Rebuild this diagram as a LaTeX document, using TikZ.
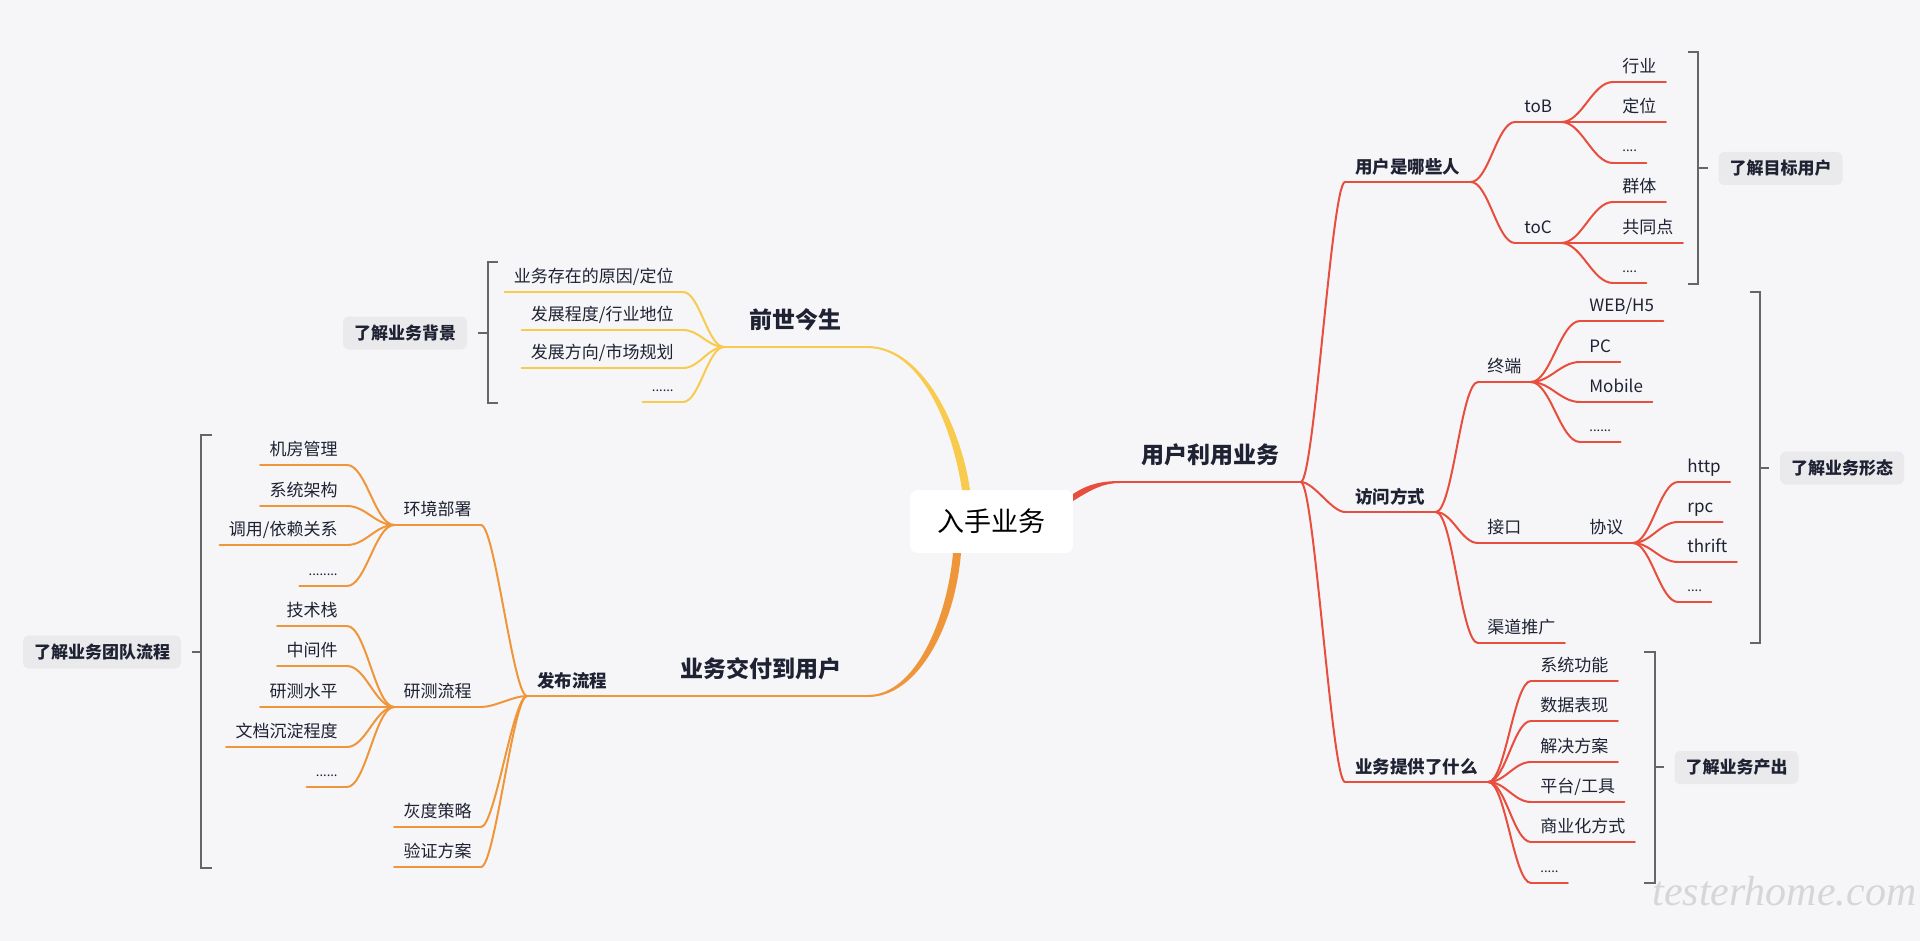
\documentclass[tikz,border=0pt]{standalone}
\usepackage{fontspec}
\setmainfont{Noto Sans CJK SC}
\newfontfamily\wmfont{Liberation Serif}
\usetikzlibrary{calc}
\definecolor{bg}{HTML}{F6F6F8}
\definecolor{txt}{HTML}{1E2233}
\definecolor{cY}{HTML}{F8CB4E}
\definecolor{cO}{HTML}{F0963A}
\definecolor{cR}{HTML}{E84E3E}
\definecolor{brkc}{HTML}{666666}
\definecolor{boxc}{HTML}{EAEAEC}
\definecolor{wmc}{HTML}{D6D6D6}
\newcommand\tp[5]{\node[#3] (#1) at (#4) {#5};\draw[ln,#2] (#1.south west) -- (#1.south east);}
\tikzset{
  ln/.style={line width=1pt, line cap=round},
  mm/.style={to path={let \p1=(\tikztostart), \p2=(\tikztotarget), \n1={#1*(\x2-\x1)} in .. controls ({\x1+\n1},\y1) and ({\x2-\n1},\y2) .. (\tikztotarget)}},
  mm/.default=0.4,
  tx/.style={text=txt, font=\fontsize{8.5}{10}\selectfont, inner xsep=4.5pt, inner ysep=3.75pt, text height=7.5pt, text depth=1pt},
  tR/.style={tx, anchor=south west},
  tL/.style={tx, anchor=south east},
  dots/.style={font=\fontsize{6.5}{8}\selectfont, inner ysep=4.3pt},
  t2/.style={tx, font=\bfseries\fontsize{8.75}{10}\selectfont, inner xsep=5pt, inner ysep=3.2pt, text height=7.7pt, text depth=1pt},
  t2R/.style={t2, anchor=south west},
  t1/.style={text=txt, font=\bfseries\fontsize{11.5}{13}\selectfont, inner ysep=7.75pt, text height=10.1pt, text depth=1.4pt},
  box/.style={fill=boxc, rounded corners=3pt, text=txt, font=\bfseries\fontsize{8.5}{10}\selectfont, minimum height=16.5pt, inner xsep=5.5pt, inner ysep=0pt},
  brk/.style={draw=brkc, line width=1.2pt},
}
\begin{document}
\begin{tikzpicture}[x=0.5pt, y=-0.5pt]
\useasboundingbox (0,0) rectangle (1920,941);
\fill[bg] (0,0) rectangle (1920,941);

% centre
\node[fill=white, rounded corners=4pt, minimum width=81.5pt, minimum height=31.5pt, inner sep=0pt,
      font=\fontsize{13.5}{16}\selectfont, text=black] (c) at (991.5,521.5) {入手业务};
\coordinate (cTl) at (962,490); \coordinate (cTr) at (970,490);
\coordinate (cBl) at (953,553); \coordinate (cBr) at (961,553);
\coordinate (cRt) at (1073,494); \coordinate (cRb) at (1073,501);

% ---------------- yellow branch
\tp{qs}{cY,line width=1.25pt}{t1,anchor=south east,inner xsep=12.5pt}{867,347}{前世今生}
\fill[cY] ($(qs.south east)+(0,-1)$) .. controls (925,346) and (962,432) .. (cTr)
   -- (cTl) .. controls (954,436) and (925,348) .. ($(qs.south east)+(0,1)$) -- cycle;
\tp{q1}{cY}{tL}{683,292}{业务存在的原因/定位}
\tp{q2}{cY}{tL}{683,330}{发展程度/行业地位}
\tp{q3}{cY}{tL}{683,368}{发展方向/市场规划}
\tp{q4}{cY}{tL,dots}{683,402}{......}
\foreach \k in {q1,q2,q3,q4} \draw[ln,cY] (qs.south west) to[mm] (\k.south east);

\node[box] (bg1) at (405,333) {了解业务背景};
\coordinate (by1) at (498,262); \coordinate (by2) at (488,262);
\coordinate (by3) at (488,403); \coordinate (by4) at (498,403);
\coordinate (byt) at (488,333); \coordinate (byk) at (478,333);
\draw[brk] (by1) -- (by2) -- (by3) -- (by4);
\draw[brk] (byt) -- (byk);

% ---------------- orange branch
\tp{yw}{cO,line width=1.25pt}{t1,anchor=south east,inner xsep=13pt}{868,696}{业务交付到用户}
\fill[cO] (cBl) .. controls (947,620) and (915,695) .. ($(yw.south east)+(0,-1)$)
   -- ($(yw.south east)+(0,1)$) .. controls (918,697) and (955,626) .. (cBr) -- cycle;
\tp{fb}{cO}{t2R}{527,696}{发布流程}
\draw[ln,cO] (fb.south east) -- (yw.south west);
\tp{hj}{cO}{tL}{481,525}{环境部署}
\tp{yc}{cO}{tL}{481,707}{研测流程}
\tp{hd}{cO}{tL}{481,827}{灰度策略}
\tp{yz}{cO}{tL}{481,867}{验证方案}
\foreach \k in {hj,yc,hd,yz} \draw[ln,cO] (fb.south west) to[mm=0.3] (\k.south east);
\tp{a1}{cO}{tL}{347,465}{机房管理}
\tp{a2}{cO}{tL}{347,506}{系统架构}
\tp{a3}{cO}{tL}{347,545}{调用/依赖关系}
\tp{a4}{cO}{tL,dots}{347,586}{........}
\foreach \k in {a1,a2,a3,a4} \draw[ln,cO] (hj.south west) to[mm] (\k.south east);
\tp{b1}{cO}{tL}{347,626}{技术栈}
\tp{b2}{cO}{tL}{347,666}{中间件}
\tp{b3}{cO}{tL}{347,707}{研测水平}
\tp{b4}{cO}{tL}{347,747}{文档沉淀程度}
\tp{b5}{cO}{tL,dots}{347,787}{......}
\foreach \k in {b1,b2,b3,b4,b5} \draw[ln,cO] (yc.south west) to[mm] (\k.south east);

\node[box] (bg2) at (102,652) {了解业务团队流程};
\coordinate (bo1) at (212,435); \coordinate (bo2) at (201,435);
\coordinate (bo3) at (201,868); \coordinate (bo4) at (212,868);
\coordinate (bot) at (201,652); \coordinate (bok) at (192,652);
\draw[brk] (bo1) -- (bo2) -- (bo3) -- (bo4);
\draw[brk] (bot) -- (bok);

% ---------------- red branch
\tp{yl}{cR,line width=1.1pt}{t1,anchor=south west,inner xsep=10.5pt}{1120,482}{用户利用业务}
\fill[cR] (cRt) .. controls (1088,484) and (1102,481) .. ($(yl.south west)+(0,-1)$)
   -- ($(yl.south west)+(0,1)$) .. controls (1104,483) and (1092,489) .. (cRb) -- cycle;
\tp{yh}{cR}{t2R}{1345,182}{用户是哪些人}
\tp{fw}{cR}{t2R}{1345,512}{访问方式}
\tp{tg}{cR}{t2R}{1345,782}{业务提供了什么}
\foreach \k in {yh,fw,tg} \draw[ln,cR] (yl.south east) to[mm=0.3] (\k.south west);

\tp{tb}{cR}{tR}{1515,122}{toB}
\tp{tc}{cR}{tR}{1515,243}{toC}
\foreach \k in {tb,tc} \draw[ln,cR] (yh.south east) to[mm] (\k.south west);
\tp{d1}{cR}{tR}{1613,82}{行业}
\tp{d2}{cR}{tR}{1613,122}{定位}
\tp{d3}{cR}{tR,dots}{1613,163}{....}
\foreach \k in {d1,d2,d3} \draw[ln,cR] (tb.south east) to[mm] (\k.south west);
\tp{e1}{cR}{tR}{1613,202}{群体}
\tp{e2}{cR}{tR}{1613,243}{共同点}
\tp{e3}{cR}{tR,dots}{1613,283}{....}
\foreach \k in {e1,e2,e3} \draw[ln,cR] (tc.south east) to[mm] (\k.south west);

\tp{zd}{cR}{tR}{1478,382}{终端}
\tp{jk}{cR}{tR}{1478,543}{接口}
\tp{qd}{cR}{tR}{1478,643}{渠道推广}
\foreach \k in {zd,jk,qd} \draw[ln,cR] (fw.south east) to[mm] (\k.south west);
\tp{f1}{cR}{tR}{1580,321}{WEB/H5}
\tp{f2}{cR}{tR}{1580,362}{PC}
\tp{f3}{cR}{tR}{1580,402}{Mobile}
\tp{f4}{cR}{tR,dots}{1580,442}{......}
\foreach \k in {f1,f2,f3,f4} \draw[ln,cR] (zd.south east) to[mm] (\k.south west);
\tp{xy}{cR}{tR}{1580,543}{协议}
\draw[ln,cR] (jk.south east) -- (xy.south west);
\tp{g1}{cR}{tR}{1678,482}{http}
\tp{g2}{cR}{tR}{1678,522}{rpc}
\tp{g3}{cR}{tR}{1678,562}{thrift}
\tp{g4}{cR}{tR,dots}{1678,602}{....}
\foreach \k in {g1,g2,g3,g4} \draw[ln,cR] (xy.south east) to[mm] (\k.south west);

\tp{h1}{cR}{tR}{1531,681}{系统功能}
\tp{h2}{cR}{tR}{1531,721}{数据表现}
\tp{h3}{cR}{tR}{1531,762}{解决方案}
\tp{h4}{cR}{tR}{1531,802}{平台/工具}
\tp{h5}{cR}{tR}{1531,842}{商业化方式}
\tp{h6}{cR}{tR,dots}{1531,883}{.....}
\foreach \k in {h1,h2,h3,h4,h5,h6} \draw[ln,cR] (tg.south east) to[mm] (\k.south west);

% right brackets and boxes
\node[box] (bx1) at (1780.5,168.5) {了解目标用户};
\draw[brk] (1688,52) -- (1698,52) -- (1698,284) -- (1688,284);
\coordinate (k1a) at (1698,168); \coordinate (k1b) at (1708,168);
\draw[brk] (k1a) -- (k1b);

\node[box] (bx2) at (1842,468) {了解业务形态};
\draw[brk] (1750,292) -- (1760,292) -- (1760,643) -- (1750,643);
\coordinate (k2a) at (1760,468); \coordinate (k2b) at (1769,468);
\draw[brk] (k2a) -- (k2b);

\node[box] (bx3) at (1736.5,767.5) {了解业务产出};
\draw[brk] (1644,652) -- (1655,652) -- (1655,883) -- (1644,883);
\coordinate (k3a) at (1655,767); \coordinate (k3b) at (1664,767);
\draw[brk] (k3a) -- (k3b);

% watermark
\node[font=\wmfont\itshape\fontsize{21}{24}\selectfont, text=wmc, anchor=base west, inner sep=0pt] (wmk) at (1652,905) {testerhome.com};
\end{tikzpicture}
\end{document}
